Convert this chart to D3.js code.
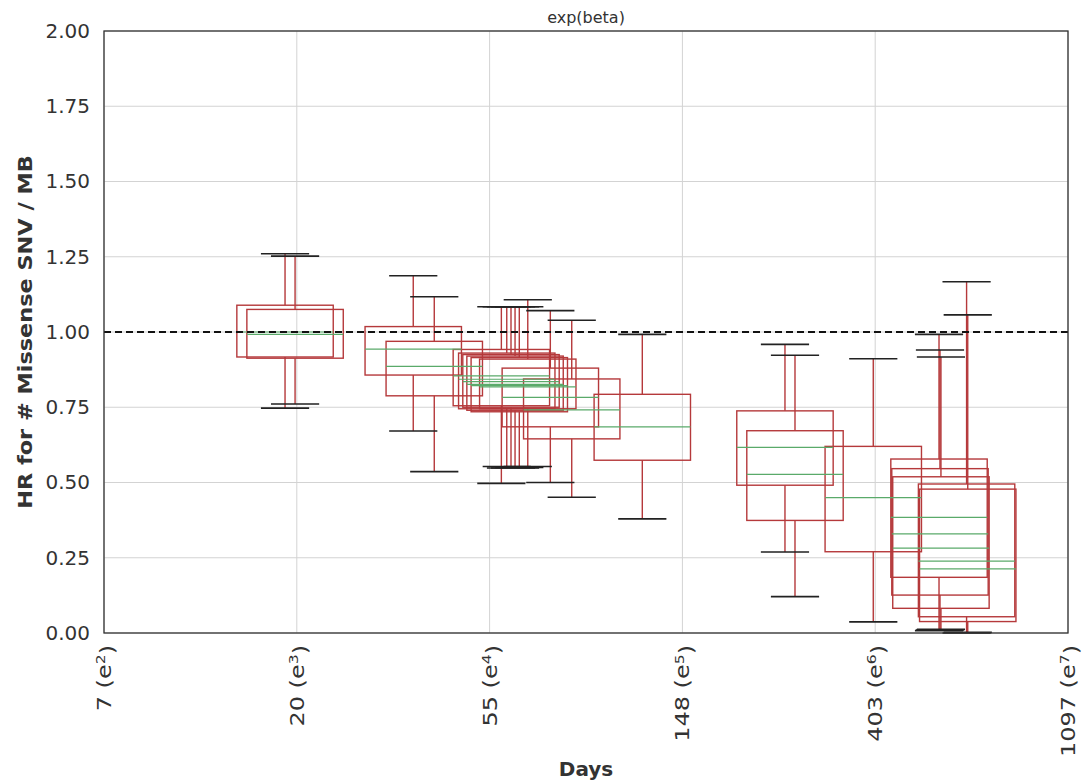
<!DOCTYPE html>
<html>
<head>
<meta charset="utf-8">
<title>exp(beta)</title>
<script src="https://cdn.jsdelivr.net/npm/d3@7"></script>
<style>
  body { margin: 0; background: #fff; }
  text { font-family: "DejaVu Sans", sans-serif; fill: #333; }
</style>
</head>
<body>
<script>
// x positions are ln(days)
var boxPos  = [2.939, 2.991, 3.604, 3.713, 4.061, 4.089, 4.111, 4.132, 4.154, 4.198, 4.315, 4.426, 4.792, 5.532, 5.584, 5.990, 6.331, 6.336, 6.341, 6.474, 6.480];
var boxQ1   = [0.917, 0.913, 0.857, 0.788, 0.755, 0.745, 0.750, 0.740, 0.735, 0.745, 0.685, 0.645, 0.574, 0.491, 0.374, 0.270, 0.185, 0.126, 0.082, 0.054, 0.038];
var boxMed  = [1.000, 0.992, 0.943, 0.886, 0.854, 0.843, 0.835, 0.826, 0.822, 0.818, 0.783, 0.741, 0.685, 0.617, 0.527, 0.450, 0.384, 0.329, 0.282, 0.239, 0.213];
var boxQ3   = [1.089, 1.075, 1.018, 0.969, 0.942, 0.930, 0.925, 0.920, 0.915, 0.910, 0.880, 0.844, 0.793, 0.738, 0.672, 0.620, 0.578, 0.546, 0.519, 0.495, 0.478];
var whiskLo = [0.747, 0.761, 0.671, 0.536, 0.497, 0.553, 0.548, 0.548, 0.550, 0.553, 0.500, 0.451, 0.379, 0.269, 0.121, 0.037, 0.008, 0.010, 0.012, 0.000, 0.002];
var whiskHi = [1.260, 1.252, 1.187, 1.117, 1.084, 1.084, 1.084, 1.084, 1.084, 1.107, 1.071, 1.039, 0.992, 0.959, 0.923, 0.911, 0.992, 0.940, 0.917, 1.167, 1.057];

var xTicks   = [2, 3, 4, 5, 6, 7];
var xDays    = ["7", "20", "55", "148", "403", "1097"];
var yTicks   = [0, 0.25, 0.5, 0.75, 1.0, 1.25, 1.5, 1.75, 2.0];
var refLine  = 1.0;

var width = 1082, height = 784;
var margin = {left: 104, right: 14, top: 31, bottom: 151};

var svg = d3.select("body").append("svg")
  .attr("width", width)
  .attr("height", height);

var x = d3.scaleLinear().domain([2, 7]).range([margin.left, width - margin.right]);
var y = d3.scaleLinear().domain([0, 2]).range([height - margin.bottom, margin.top]);

// grid
svg.append("g").selectAll("line").data(xTicks).enter().append("line")
  .attr("x1", d => x(d)).attr("x2", d => x(d))
  .attr("y1", y(0)).attr("y2", y(2))
  .attr("stroke", "#d3d3d3").attr("stroke-width", 1);
svg.append("g").selectAll("line").data(yTicks).enter().append("line")
  .attr("x1", x(2)).attr("x2", x(7))
  .attr("y1", d => y(d)).attr("y2", d => y(d))
  .attr("stroke", "#d3d3d3").attr("stroke-width", 1);

// boxes
var boxes = boxPos.map(function(p, i) {
  return {p: p, q1: boxQ1[i], med: boxMed[i], q3: boxQ3[i], lo: whiskLo[i], hi: whiskHi[i]};
});
var bw = 0.5, cw = 0.25;
var red = "#b5393b";

var plot = svg.append("g");
plot.selectAll(".whisk").data(boxes).enter().append("path")
  .attr("d", d => "M" + x(d.p) + "," + y(d.q3) + "V" + y(d.hi) + "M" + x(d.p) + "," + y(d.q1) + "V" + y(d.lo))
  .attr("stroke", red).attr("stroke-width", 1.4).attr("fill", "none");
plot.selectAll(".cap").data(boxes).enter().append("path")
  .attr("d", d => "M" + x(d.p - cw / 2) + "," + y(d.hi) + "H" + x(d.p + cw / 2) +
                  "M" + x(d.p - cw / 2) + "," + y(d.lo) + "H" + x(d.p + cw / 2))
  .attr("stroke", "#222").attr("stroke-width", 1.6).attr("fill", "none");
plot.selectAll(".box").data(boxes).enter().append("rect")
  .attr("x", d => x(d.p - bw / 2))
  .attr("width", d => x(d.p + bw / 2) - x(d.p - bw / 2))
  .attr("y", d => y(d.q3))
  .attr("height", d => y(d.q1) - y(d.q3))
  .attr("fill", "none").attr("stroke", red).attr("stroke-width", 1.4);
plot.selectAll(".med").data(boxes).enter().append("line")
  .attr("x1", d => x(d.p - bw / 2)).attr("x2", d => x(d.p + bw / 2))
  .attr("y1", d => y(d.med)).attr("y2", d => y(d.med))
  .attr("stroke", "#5aaa6a").attr("stroke-width", 1.2);

// reference line
svg.append("line")
  .attr("x1", x(2)).attr("x2", x(7))
  .attr("y1", y(refLine)).attr("y2", y(refLine))
  .attr("stroke", "#111").attr("stroke-width", 2.2)
  .attr("stroke-dasharray", "7,4");

// frame
svg.append("rect")
  .attr("x", x(2)).attr("y", y(2))
  .attr("width", x(7) - x(2)).attr("height", y(0) - y(2))
  .attr("fill", "none").attr("stroke", "#333").attr("stroke-width", 1.3);

// y ticks
var yAxis = svg.append("g")
  .attr("transform", "translate(" + x(2) + ",0)")
  .call(d3.axisLeft(y).tickValues(yTicks).tickFormat(d3.format(".2f")).tickSize(0).tickPadding(14));
yAxis.select(".domain").remove();
yAxis.selectAll("text").style("font-size", "20px").style("font-family", "DejaVu Sans").attr("fill", "#333");

// x ticks, rotated (stretched along the text like the source image)
var xl = svg.append("g").selectAll("text").data(xTicks).enter().append("text")
  .attr("transform", d => "translate(" + (x(d) + 7) + "," + (y(0) + 12) + ") rotate(-90) scale(1.2,1)")
  .attr("text-anchor", "end")
  .style("font-size", "20px");
xl.append("tspan").text((d, i) => xDays[i] + " (e");
xl.append("tspan").attr("dy", "-0.45em").style("font-size", "13px").text(d => d);
xl.append("tspan").attr("dy", "0.45em").text(")");

// labels
svg.append("text")
  .attr("x", (x(2) + x(7)) / 2).attr("y", 776)
  .attr("text-anchor", "middle")
  .style("font-size", "20px").style("font-weight", "bold")
  .text("Days");
svg.append("text")
  .attr("transform", "translate(32," + (y(1)) + ") rotate(-90) scale(1.12,1)")
  .attr("text-anchor", "middle")
  .style("font-size", "20px").style("font-weight", "bold")
  .text("HR for # Missense SNV / MB");
svg.append("text")
  .attr("x", (x(2) + x(7)) / 2).attr("y", 23)
  .attr("text-anchor", "middle")
  .style("font-size", "16px")
  .text("exp(beta)");
</script>
</body>
</html>
